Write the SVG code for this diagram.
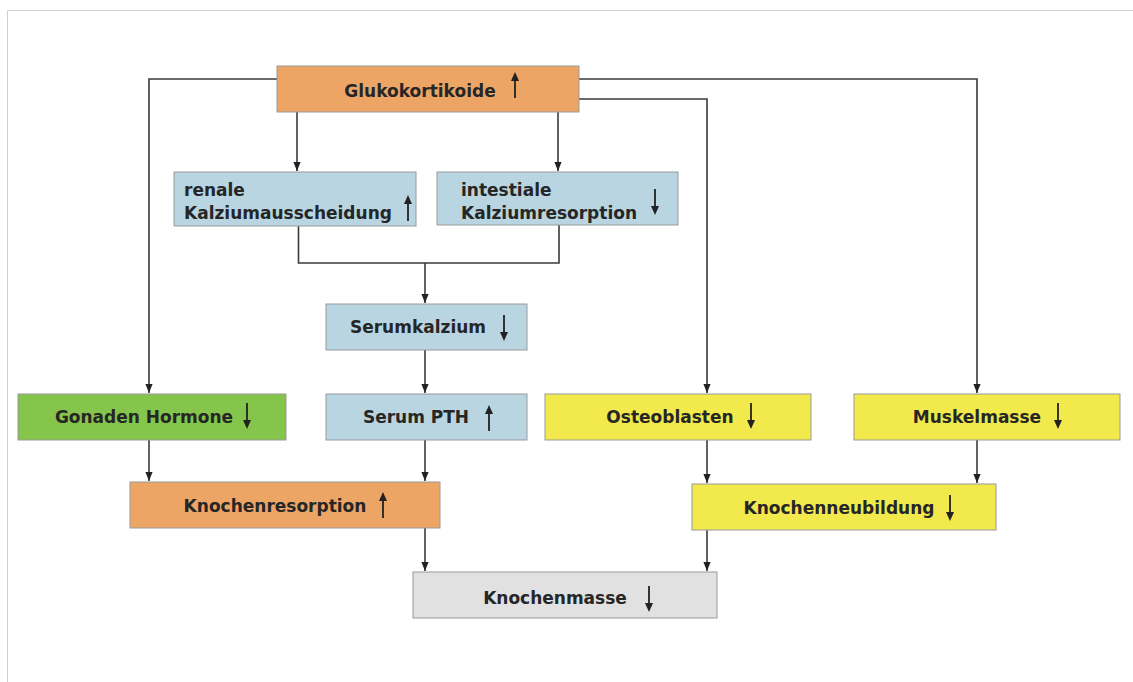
<svg xmlns="http://www.w3.org/2000/svg" width="1133" height="682" viewBox="0 0 1133 682">
<defs>
<style>
.box{stroke:#9a9a9a;stroke-width:1}
.or{fill:#eda566}.bl{fill:#b8d5e1}.gr{fill:#86c54b}.ye{fill:#f2e94c}.gy{fill:#e1e1e1}
.t{font-family:"DejaVu Sans",Verdana,sans-serif;font-weight:bold;font-size:17px;fill:#262626}
.c{fill:none;stroke:#3a3a3a;stroke-width:1.6}
.sh{stroke:#222;stroke-width:1.8}
.hd{fill:#222}
</style>
<marker id="a" viewBox="0 0 10 10" refX="10" refY="5" markerWidth="9" markerHeight="9" markerUnits="userSpaceOnUse" orient="auto">
<path d="M0,1 L10,5 L0,9 Z" fill="#222"/>
</marker>
<g id="up"><line class="sh" x1="0" y1="26" x2="0" y2="7"/><path class="hd" d="M-4,9 L0,0 L4,9 Z"/></g>
<g id="dn"><line class="sh" x1="0" y1="0" x2="0" y2="19"/><path class="hd" d="M-4,17 L0,26 L4,17 Z"/></g>
</defs>
<rect x="0" y="0" width="1133" height="682" fill="#ffffff"/>
<path d="M7.5,682 V10.5 H1133" fill="none" stroke="#d0d0d0" stroke-width="1"/>

<g id="connectors">
<path class="c" d="M277,79 H149 V393" marker-end="url(#a)"/>
<path class="c" d="M579,79 H977 V393" marker-end="url(#a)"/>
<path class="c" d="M579,99 H707 V393" marker-end="url(#a)"/>
<path class="c" d="M297,112 V171" marker-end="url(#a)"/>
<path class="c" d="M558,112 V171" marker-end="url(#a)"/>
<path class="c" d="M298.5,226 V263 H559 V225"/>
<path class="c" d="M425,263 V303" marker-end="url(#a)"/>
<path class="c" d="M425,350 V393" marker-end="url(#a)"/>
<path class="c" d="M149,440 V481" marker-end="url(#a)"/>
<path class="c" d="M425,440 V481" marker-end="url(#a)"/>
<path class="c" d="M425,528 V571" marker-end="url(#a)"/>
<path class="c" d="M707,440 V483" marker-end="url(#a)"/>
<path class="c" d="M977,440 V483" marker-end="url(#a)"/>
<path class="c" d="M707,530 V571" marker-end="url(#a)"/>
</g>

<g id="n-glukokortikoide">
<rect class="box or" x="277" y="66" width="302" height="46"/>
<text class="t" x="420" y="97" text-anchor="middle">Glukokortikoide</text>
<use href="#up" x="515" y="72"/>
</g>
<g id="n-renale">
<rect class="box bl" x="174" y="172" width="242" height="54"/>
<text class="t" x="184" y="196">renale</text>
<text class="t" x="184" y="219">Kalziumausscheidung</text>
<use href="#up" x="408" y="195"/>
</g>
<g id="n-intestiale">
<rect class="box bl" x="437" y="172" width="241" height="53"/>
<text class="t" x="461" y="196">intestiale</text>
<text class="t" x="461" y="219">Kalziumresorption</text>
<use href="#dn" x="655" y="189"/>
</g>
<g id="n-serumkalzium">
<rect class="box bl" x="326" y="304" width="201" height="46"/>
<text class="t" x="418" y="333" text-anchor="middle">Serumkalzium</text>
<use href="#dn" x="504" y="315"/>
</g>
<g id="n-serumpth">
<rect class="box bl" x="326" y="394" width="201" height="46"/>
<text class="t" x="416" y="423" text-anchor="middle">Serum PTH</text>
<use href="#up" x="489" y="405"/>
</g>
<g id="n-gonaden">
<rect class="box gr" x="18" y="394" width="268" height="46"/>
<text class="t" x="144" y="423" text-anchor="middle">Gonaden Hormone</text>
<use href="#dn" x="247" y="403"/>
</g>
<g id="n-osteoblasten">
<rect class="box ye" x="545" y="394" width="266" height="46"/>
<text class="t" x="670" y="423" text-anchor="middle">Osteoblasten</text>
<use href="#dn" x="751" y="403"/>
</g>
<g id="n-muskelmasse">
<rect class="box ye" x="854" y="394" width="266" height="46"/>
<text class="t" x="977" y="423" text-anchor="middle">Muskelmasse</text>
<use href="#dn" x="1058" y="403"/>
</g>
<g id="n-knochenresorption">
<rect class="box or" x="130" y="482" width="310" height="46"/>
<text class="t" x="275" y="512" text-anchor="middle">Knochenresorption</text>
<use href="#up" x="383" y="492"/>
</g>
<g id="n-knochenneubildung">
<rect class="box ye" x="692" y="484" width="304" height="46"/>
<text class="t" x="839" y="514" text-anchor="middle">Knochenneubildung</text>
<use href="#dn" x="950" y="495"/>
</g>
<g id="n-knochenmasse">
<rect class="box gy" x="413" y="572" width="304" height="46"/>
<text class="t" x="555" y="604" text-anchor="middle">Knochenmasse</text>
<use href="#dn" x="649" y="586"/>
</g>
</svg>
